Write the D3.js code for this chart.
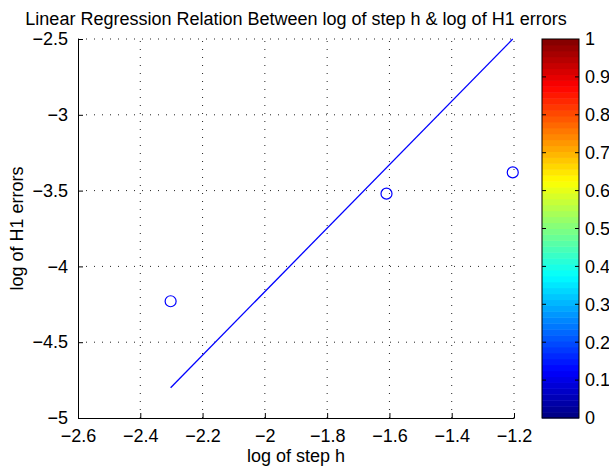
<!DOCTYPE html>
<html>
<head>
<meta charset="utf-8">
<script src="https://cdn.jsdelivr.net/npm/d3@7"></script>
<style>
  body { margin: 0; background: #fff; }
  text { font-family: "Liberation Sans", Arial, Helvetica, sans-serif; fill: #000; }
</style>
</head>
<body>
<div class="chart"></div>
<script>
// data
const logStep = [-2.3026, -1.6094, -1.2040];
const logErr = [-4.23, -3.52, -3.38];
const fitX = [-2.3026, -1.2040];
const fitY = [-4.80, -2.50];

const xTicks = [-2.6, -2.4, -2.2, -2, -1.8, -1.6, -1.4, -1.2];
const yTicks = [-5, -4.5, -4, -3.5, -3, -2.5];
const cbTicks = [0, 0.1, 0.2, 0.3, 0.4, 0.5, 0.6, 0.7, 0.8, 0.9, 1];

const W = 609, H = 466;
const plot = {left: 78, right: 514, top: 39, bottom: 418};
const cb = {left: 542, right: 579};
const fontSize = 18;

const svg = d3.select(".chart").append("svg")
    .attr("width", W)
    .attr("height", H);

let xScale = d3.scaleLinear().domain([-2.6, -1.2]).range([plot.left, plot.right]);
let yScale = d3.scaleLinear().domain([-5, -2.5]).range([plot.bottom, plot.top]);
let cScale = d3.scaleLinear().domain([0, 1]).range([plot.bottom, plot.top]);

const fmt = d3.format("~g");

// dotted grid
svg.append("g").selectAll("line")
    .data(xTicks.slice(1))
    .join("line")
    .attr("x1", d => xScale(d)).attr("x2", d => xScale(d))
    .attr("y1", plot.bottom).attr("y2", plot.top)
    .attr("stroke", "#222").attr("stroke-width", 1)
    .attr("stroke-dasharray", "1,7");

svg.append("g").selectAll("line")
    .data(yTicks.slice(1))
    .join("line")
    .attr("y1", d => yScale(d)).attr("y2", d => yScale(d))
    .attr("x1", plot.left).attr("x2", plot.right)
    .attr("stroke", "#222").attr("stroke-width", 1)
    .attr("stroke-dasharray", "1,7");

let xAxis = (g) => {
    g.attr("transform", `translate(0, ${plot.bottom})`)
     .call(d3.axisBottom(xScale).tickValues(xTicks).tickFormat(fmt).tickSizeInner(-5).tickSizeOuter(0).tickPadding(11));
    g.select(".domain").attr("stroke", "#000");
    g.selectAll(".tick line").attr("stroke", "#000");
    g.selectAll("text").attr("font-size", fontSize).attr("fill", "#000");
}

let yAxis = (g) => {
    g.attr("transform", `translate(${plot.left}, 0)`)
     .call(d3.axisLeft(yScale).tickValues(yTicks).tickFormat(fmt).tickSizeInner(-5).tickSizeOuter(0).tickPadding(10));
    g.select(".domain").attr("stroke", "#000");
    g.selectAll(".tick line").attr("stroke", "#000");
    g.selectAll("text").attr("font-size", fontSize).attr("fill", "#000");
}

svg.append("g").call(xAxis).attr("font-family", null);
svg.append("g").call(yAxis).attr("font-family", null);

// regression line
let valueline = d3.line()
    .x(d => xScale(d[0]))
    .y(d => yScale(d[1]));

svg.append("path")
    .datum(d3.zip(fitX, fitY))
    .attr("d", valueline)
    .attr("fill", "none")
    .attr("stroke", "#0000ff")
    .attr("stroke-width", 1.3);

// data points
svg.append("g").selectAll("circle")
    .data(d3.zip(logStep, logErr))
    .join("circle")
    .attr("cx", d => xScale(d[0]))
    .attr("cy", d => yScale(d[1]))
    .attr("r", 5.5)
    .attr("fill", "none")
    .attr("stroke", "#0000ff")
    .attr("stroke-width", 1.2);

// title and labels
svg.append("text")
    .attr("x", (plot.left + plot.right) / 2)
    .attr("y", 25)
    .attr("text-anchor", "middle")
    .attr("font-size", fontSize)
    .text("Linear Regression Relation Between log of step h & log of H1 errors");

svg.append("text")
    .attr("x", (plot.left + plot.right) / 2)
    .attr("y", 462)
    .attr("text-anchor", "middle")
    .attr("font-size", fontSize)
    .text("log of step h");

svg.append("text")
    .attr("transform", `translate(23, ${(plot.top + plot.bottom) / 2}) rotate(-90)`)
    .attr("text-anchor", "middle")
    .attr("font-size", fontSize)
    .text("log of H1 errors");

// colorbar: jet, 64 levels
const jet = t => {
    const c = v => Math.max(0, Math.min(1, v));
    const r = c(1.5 - Math.abs(4 * t - 3));
    const g = c(1.5 - Math.abs(4 * t - 2));
    const b = c(1.5 - Math.abs(4 * t - 1));
    return d3.rgb(r * 255, g * 255, b * 255);
};
const levels = d3.range(64);
const cbStep = (plot.bottom - plot.top) / 64;

svg.append("g").selectAll("rect")
    .data(levels)
    .join("rect")
    .attr("x", cb.left)
    .attr("width", cb.right - cb.left)
    .attr("y", d => cScale((d + 1) / 64))
    .attr("height", cbStep + 0.5)
    .attr("fill", d => jet((d + 0.5) / 64));

svg.append("rect")
    .attr("x", cb.left).attr("y", plot.top)
    .attr("width", cb.right - cb.left).attr("height", plot.bottom - plot.top)
    .attr("fill", "none").attr("stroke", "#000");

let cbAxis = svg.append("g");
cbAxis.selectAll("line.l")
    .data(cbTicks.slice(1, -1))
    .join("line")
    .attr("x1", cb.left).attr("x2", cb.left + 4)
    .attr("y1", d => cScale(d)).attr("y2", d => cScale(d))
    .attr("stroke", "#000");
cbAxis.selectAll("line.r")
    .data(cbTicks.slice(1, -1))
    .join("line")
    .attr("x1", cb.right - 4).attr("x2", cb.right)
    .attr("y1", d => cScale(d)).attr("y2", d => cScale(d))
    .attr("stroke", "#000");
cbAxis.selectAll("text")
    .data(cbTicks)
    .join("text")
    .attr("x", cb.right + 6)
    .attr("y", d => cScale(d))
    .attr("dy", "0.35em")
    .attr("font-size", fontSize)
    .text(d => fmt(d));
</script>
</body>
</html>
